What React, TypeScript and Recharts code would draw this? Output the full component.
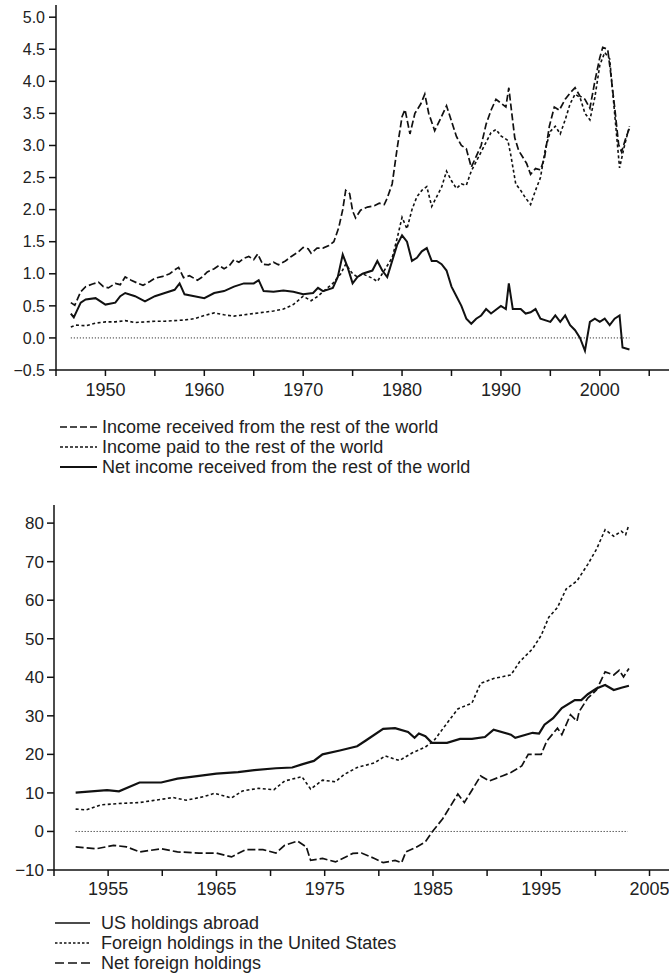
import React from 'react';
import { LineChart, Line, XAxis, YAxis } from 'recharts';

const FONT = '"Liberation Sans", Arial, Helvetica, sans-serif';
const INK = '#111';

// ---------- Top chart data ----------
const receivedYears = [1946.5,1946.9,1947.5,1948,1948.7,1949.3,1949.8,1950.3,1951,1951.5,1952,1952.6,1953.3,1953.8,1954.5,1955,1955.8,1956.5,1957,1957.4,1957.9,1958.5,1959.3,1959.8,1960.3,1961,1961.5,1962,1962.5,1963,1963.5,1964,1964.5,1965,1965.4,1965.9,1966.5,1967,1967.5,1968.2,1968.8,1969.5,1970,1970.5,1970.8,1971.4,1972,1972.6,1973.1,1973.6,1974,1974.3,1974.7,1975,1975.3,1975.8,1976.5,1977.2,1977.7,1978.2,1978.5,1979,1979.5,1980,1980.3,1980.8,1981.3,1981.9,1982.3,1982.7,1983.3,1983.9,1984.5,1985,1985.5,1986,1986.5,1987,1987.5,1988,1988.5,1989,1989.5,1990,1990.5,1990.8,1991.1,1991.4,1991.8,1992.2,1992.6,1993,1993.5,1994,1994.4,1994.9,1995.4,1995.9,1996.5,1997,1997.5,1998,1998.5,1999,1999.5,2000,2000.3,2000.8,2001.1,2001.5,2001.9,2002.2,2002.6,2003];
const receivedValues = [0.55,0.51,0.72,0.8,0.84,0.87,0.8,0.78,0.85,0.83,0.95,0.9,0.85,0.82,0.88,0.93,0.96,1.0,1.06,1.1,0.94,0.97,0.9,0.95,1.03,1.08,1.13,1.08,1.12,1.22,1.18,1.24,1.27,1.22,1.31,1.15,1.14,1.18,1.14,1.2,1.27,1.34,1.41,1.39,1.32,1.4,1.4,1.44,1.5,1.72,2.0,2.3,2.25,1.98,1.87,1.99,2.04,2.06,2.1,2.08,2.18,2.4,2.95,3.45,3.56,3.18,3.5,3.65,3.8,3.5,3.23,3.42,3.62,3.38,3.14,3.0,2.95,2.66,2.83,3.0,3.33,3.55,3.72,3.66,3.6,3.9,3.5,3.12,2.92,2.82,2.72,2.55,2.64,2.62,2.8,3.3,3.6,3.55,3.72,3.82,3.9,3.77,3.72,3.58,4.0,4.37,4.53,4.5,4.13,3.6,3.02,2.9,3.1,3.27];

const paidYears = [1946.5,1947,1948,1949,1950,1951,1952,1953,1954,1955,1956,1957,1958,1959,1960,1961,1962,1963,1964,1965,1966,1967,1968,1969,1970,1970.8,1971.5,1972,1973,1973.8,1974.3,1975,1975.5,1976,1977,1977.5,1978,1979,1979.5,1980,1980.5,1981,1981.5,1982,1982.5,1983,1983.5,1984,1984.5,1985,1985.5,1986,1986.5,1987,1988,1988.5,1989,1989.5,1990,1990.7,1991,1991.5,1992,1992.5,1993,1993.5,1994,1994.5,1995,1995.5,1996,1996.5,1997,1997.5,1998,1998.5,1999,1999.5,2000,2000.5,2001,2001.5,2002,2002.5,2003];
const paidValues = [0.17,0.2,0.19,0.23,0.25,0.25,0.27,0.24,0.25,0.26,0.26,0.27,0.28,0.3,0.35,0.39,0.36,0.34,0.36,0.38,0.4,0.42,0.45,0.52,0.65,0.58,0.65,0.72,0.85,1.0,1.15,1.0,0.95,1.0,0.93,0.88,1.0,1.25,1.55,1.88,1.7,2.0,2.2,2.3,2.36,2.05,2.2,2.35,2.6,2.45,2.33,2.4,2.38,2.6,2.9,3.05,3.2,3.25,3.15,3.08,2.85,2.4,2.3,2.18,2.08,2.3,2.5,2.95,3.22,3.3,3.18,3.4,3.65,3.8,3.75,3.5,3.4,3.75,4.25,4.45,4.35,3.5,2.65,3.0,3.3];

const netIncomeYears = [1946.5,1946.8,1947.5,1948,1949,1950,1951,1951.5,1952,1953,1954,1955,1956,1957,1957.5,1958,1959,1960,1961,1962,1963,1964,1965,1965.5,1966,1967,1968,1969,1970,1971,1971.5,1972,1973,1973.5,1974,1974.5,1975,1975.5,1976,1977,1977.5,1978,1978.5,1979,1979.5,1980,1980.5,1981,1981.5,1982,1982.5,1983,1983.5,1984,1984.5,1985,1985.5,1986,1986.5,1987,1987.5,1988,1988.5,1989,1990,1990.5,1990.8,1991.2,1992,1992.5,1993,1993.5,1994,1995,1995.5,1996,1996.5,1997,1997.5,1998,1998.5,1999,1999.5,2000,2000.5,2001,2001.5,2002,2002.3,2003];
const netIncomeValues = [0.38,0.32,0.55,0.6,0.62,0.52,0.55,0.65,0.7,0.65,0.57,0.65,0.7,0.75,0.85,0.68,0.65,0.62,0.7,0.73,0.8,0.85,0.85,0.9,0.73,0.72,0.74,0.72,0.68,0.7,0.78,0.73,0.78,0.95,1.3,1.1,0.85,0.95,1.0,1.05,1.2,1.05,0.95,1.2,1.45,1.6,1.5,1.2,1.25,1.35,1.4,1.2,1.2,1.15,1.05,0.8,0.65,0.5,0.3,0.22,0.3,0.35,0.45,0.38,0.5,0.45,0.85,0.45,0.45,0.38,0.4,0.45,0.3,0.25,0.35,0.25,0.35,0.2,0.12,0.0,-0.2,0.25,0.3,0.25,0.3,0.2,0.3,0.35,-0.15,-0.18];

const topZeroYears = [1946.5, 2003];
const topXTicks = [1945,1950,1955,1960,1965,1970,1975,1980,1985,1990,1995,2000,2005];
const topYTicks = [-0.5,0,0.5,1,1.5,2,2.5,3,3.5,4,4.5,5];

// ---------- Bottom chart data ----------
const usYears = [1952,1954.9,1956,1957.9,1959.9,1961.4,1963.4,1965,1967,1968.5,1970.5,1972,1972.9,1974,1974.8,1976.4,1978,1978.8,1980.4,1981.5,1982.7,1983.3,1983.7,1984.3,1984.9,1986.3,1987.5,1988.6,1989.8,1990.6,1992.2,1992.6,1994.2,1994.8,1995.3,1996.1,1996.9,1998.1,1998.7,1999.3,2000.1,2000.9,2001.7,2002.4,2003.1];
const usValues = [10.1,10.7,10.4,12.7,12.7,13.7,14.4,15,15.4,15.9,16.4,16.6,17.4,18.3,20,21,22.1,23.6,26.6,26.8,25.8,24.3,25.4,24.7,23,23,24,24,24.5,26.4,25.1,24.3,25.6,25.4,27.7,29.4,32,34.1,34.1,35.6,37.1,38,36.7,37.3,37.8];

const foreignYears = [1952,1953,1954.3,1956.3,1957.9,1959.1,1961,1962.2,1963.8,1964.8,1966.4,1967.4,1968.9,1970.3,1971.3,1972.9,1973.7,1974.8,1976,1976.8,1978,1979.6,1980.6,1981.9,1983.1,1984.3,1985.1,1986.3,1987.3,1988.6,1989.4,1990.6,1992.2,1993,1994.2,1995,1995.7,1996.5,1997.3,1998.3,1999.3,2000.1,2000.9,2001.7,2002.4,2002.8,2003.1];
const foreignValues = [5.8,5.6,6.9,7.3,7.5,8,8.8,8.1,9,9.9,8.7,10.5,11.2,10.8,13.1,14.2,11,13.3,12.9,14.8,16.6,17.8,19.6,18.4,20.4,21.9,23.6,28.1,31.8,33.3,38.4,39.7,40.6,44,47.4,50.9,55.6,58.1,62.9,65,69.3,73.2,78.3,76.6,77.9,77,79.6];

const netHoldYears = [1952,1953.9,1955.5,1956.7,1957.9,1959.9,1961.4,1963.4,1965,1966.4,1967.7,1969.3,1970.5,1971.3,1972.5,1973.3,1973.7,1974.8,1976,1977.6,1978.4,1979.6,1980.4,1981.5,1982.1,1982.5,1983.5,1984.3,1984.9,1985.9,1987.3,1987.9,1988.6,1989.4,1990.2,1991.4,1992.2,1993.2,1993.8,1995,1995.5,1996.5,1996.9,1997.7,1998.3,1998.5,1999.3,2000.1,2000.9,2001.7,2002.2,2002.6,2003.1];
const netHoldValues = [-4,-4.5,-3.6,-4,-5.3,-4.5,-5.3,-5.6,-5.6,-6.6,-4.7,-4.7,-5.6,-3.6,-2.5,-4,-7.5,-7,-7.9,-5.7,-5.6,-7,-8.1,-7.5,-8.1,-5.3,-4,-2.7,-0.2,3.3,9.7,7.5,10.7,14.4,13.1,14.4,15.3,17,20,20,23.4,26.8,25.1,30.3,28.6,31.1,34.6,36.7,41.4,40.6,41.8,40.1,42.3];

const bottomZeroYears = [1952, 2003];
const bottomXTicks = [1950,1955,1960,1965,1970,1975,1980,1985,1990,1995,2000,2005];
const bottomYTicks = [-10,0,10,20,30,40,50,60,70,80];

const zip = (xs: number[], ys: number[]) => xs.map((x, i) => ({ x, y: ys[i] }));
const flat = (xs: number[]) => xs.map((x) => ({ x, y: 0 }));
const minus = (s: string) => s.replace('-', '\u2212');

const axisStroke = { stroke: INK, strokeWidth: 1.5 };

function LegendRow({ dash, width, label, top, left, sw, gap }: any) {
  return (
    <div style={{ position: 'absolute', left, top, height: 20, display: 'flex', alignItems: 'center', fontFamily: FONT, fontSize: 18, color: '#222', whiteSpace: 'nowrap' }}>
      <svg width={width} height={20} style={{ marginRight: gap }}>
        <line x1={0} y1={10} x2={width} y2={10} stroke={INK} strokeWidth={sw || 1.5} strokeDasharray={dash} />
      </svg>
      <span>{label}</span>
    </div>
  );
}

export default function App() {
  return (
    <div style={{ position: 'absolute', left: 0, top: 0, width: 669, height: 976, background: '#fff', overflow: 'hidden' }}>
      <div style={{ position: 'absolute', left: 0, top: 0 }}>
        <LineChart width={669} height={400} margin={{ top: 5, right: 0, bottom: 0, left: 0 }}>
          <XAxis type="number" dataKey="x" domain={[1945, 2007]} allowDataOverflow ticks={topXTicks} interval={0}
            tickFormatter={(v: number) => (v % 10 === 0 ? String(v) : '')}
            height={30} tickSize={6} tickMargin={7} axisLine={axisStroke} tickLine={axisStroke}
            tick={{ fill: '#222', fontSize: 18, fontFamily: FONT }} />
          <YAxis type="number" domain={[-0.5, 5.19]} allowDataOverflow ticks={topYTicks} interval={0} width={56}
            tickFormatter={(v: number) => minus(v.toFixed(1))}
            tickSize={7} tickMargin={4} axisLine={axisStroke} tickLine={axisStroke}
            tick={{ fill: '#222', fontSize: 16, fontFamily: FONT }} />
          <Line data={flat(topZeroYears)} dataKey="y" stroke={INK} strokeWidth={1} strokeDasharray="1 2" dot={false} isAnimationActive={false} />
          <Line data={zip(paidYears, paidValues)} dataKey="y" stroke={INK} strokeWidth={1.6} strokeDasharray="3 2.5" dot={false} isAnimationActive={false} />
          <Line data={zip(receivedYears, receivedValues)} dataKey="y" stroke={INK} strokeWidth={1.7} strokeDasharray="7 3" dot={false} isAnimationActive={false} />
          <Line data={zip(netIncomeYears, netIncomeValues)} dataKey="y" stroke={INK} strokeWidth={2} dot={false} isAnimationActive={false} />
        </LineChart>
      </div>
      <LegendRow left={60} top={417} width={37} gap={5} dash="7 3" label="Income received from the rest of the world" />
      <LegendRow left={60} top={437} width={37} gap={5} dash="3 2" label="Income paid to the rest of the world" />
      <LegendRow left={60} top={457} width={37} gap={5} dash="" sw={1.8} label="Net income received from the rest of the world" />

      <div style={{ position: 'absolute', left: 0, top: 500 }}>
        <LineChart width={669} height={400} margin={{ top: 5, right: 0, bottom: 0, left: 0 }}>
          <XAxis type="number" dataKey="x" domain={[1950, 2006.8]} allowDataOverflow ticks={bottomXTicks} interval={0}
            tickFormatter={(v: number) => ((v - 1955) % 10 === 0 ? String(v) : '')}
            height={30} tickSize={6} tickMargin={6} axisLine={axisStroke} tickLine={axisStroke}
            tick={{ fill: '#222', fontSize: 18, fontFamily: FONT }} />
          <YAxis type="number" domain={[-10, 84.7]} allowDataOverflow ticks={bottomYTicks} interval={0} width={54}
            tickFormatter={(v: number) => minus(String(v))}
            tickSize={7} tickMargin={3} axisLine={axisStroke} tickLine={axisStroke}
            tick={{ fill: '#222', fontSize: 17, fontFamily: FONT }} />
          <Line data={flat(bottomZeroYears)} dataKey="y" stroke={INK} strokeWidth={1} strokeDasharray="1 2" dot={false} isAnimationActive={false} />
          <Line data={zip(foreignYears, foreignValues)} dataKey="y" stroke={INK} strokeWidth={1.6} strokeDasharray="3 2.5" dot={false} isAnimationActive={false} />
          <Line data={zip(netHoldYears, netHoldValues)} dataKey="y" stroke={INK} strokeWidth={1.7} strokeDasharray="8 3" dot={false} isAnimationActive={false} />
          <Line data={zip(usYears, usValues)} dataKey="y" stroke={INK} strokeWidth={2.2} dot={false} isAnimationActive={false} />
        </LineChart>
      </div>
      <LegendRow left={55} top={913} width={35} gap={11} dash="" sw={1.6} label="US holdings abroad" />
      <LegendRow left={55} top={933} width={35} gap={11} dash="2.5 2" label="Foreign holdings in the United States" />
      <LegendRow left={55} top={953} width={35} gap={11} dash="9 4" label="Net foreign holdings" />
    </div>
  );
}
